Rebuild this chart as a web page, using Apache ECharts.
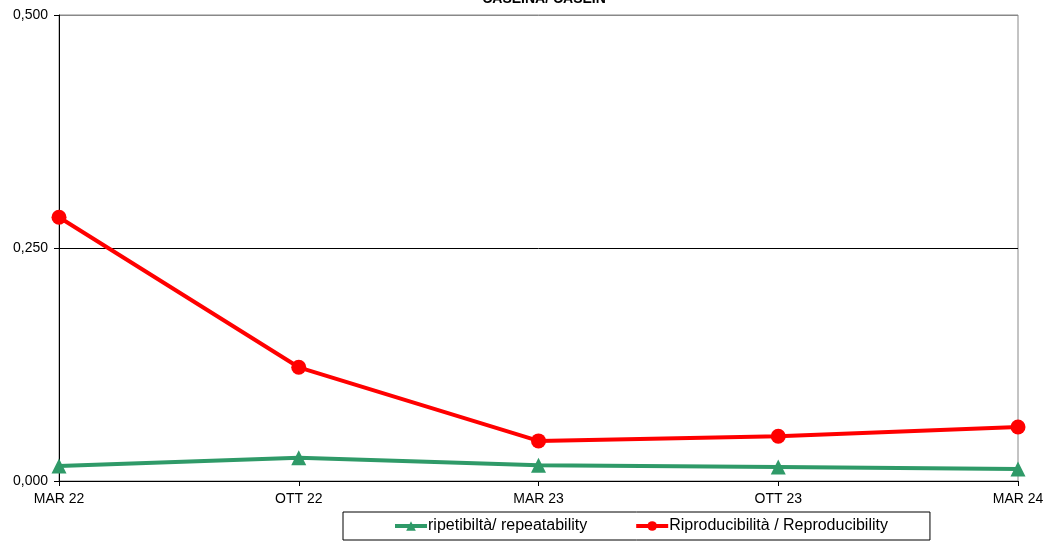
<!DOCTYPE html>
<html>
<head>
<meta charset="utf-8">
<script src="https://cdn.jsdelivr.net/npm/echarts@6/dist/echarts.min.js"></script>
<style>
  html, body { margin: 0; padding: 0; background: #fff; }
  #chart { width: 1047px; height: 545px; }
</style>
</head>
<body>
<div id="chart"></div>
<script>
// Sessions of the proficiency rounds
const categories = ['MAR 22', 'OTT 22', 'MAR 23', 'OTT 23', 'MAR 24'];
// Repeatability (r) and reproducibility (R) for casein
const repeatability = [0.016, 0.025, 0.017, 0.015, 0.013];
const reproducibility = [0.283, 0.122, 0.043, 0.048, 0.058];
const yTicks = [0, 0.25, 0.5];

const chart = echarts.init(document.getElementById('chart'));
const fmt = v => v.toFixed(3).replace('.', ',');
const font = 'Liberation Sans, Arial, sans-serif';

chart.setOption({
  animation: false,
  title: {
    text: 'CASEINA/ CASEIN',
    left: 539,
    textAlign: 'center',
    top: -13,
    textStyle: { fontFamily: font, fontSize: 14, fontWeight: 'bold', color: '#000' }
  },
  grid: {
    left: 59, right: 29, top: 15, bottom: 64,
    show: true, borderColor: '#888', borderWidth: 1
  },
  legend: {
    left: 343, top: 512,
    padding: [6, 42, 6, 50],
    itemGap: 47,
    itemWidth: 32, itemHeight: 12,
    borderColor: '#000', borderWidth: 1,
    lineStyle: { width: 4 },
    textStyle: { fontFamily: font, fontSize: 16, color: '#000', padding: [0, 0, 0, -4] },
    data: ['ripetibiltà/ repeatability', 'Riproducibilità / Reproducibility']
  },
  xAxis: {
    type: 'category',
    data: categories,
    boundaryGap: false,
    axisLine: { lineStyle: { color: '#000', width: 1 } },
    axisTick: { show: true, length: 5, lineStyle: { color: '#000' } },
    axisLabel: { fontFamily: font, fontSize: 14, color: '#000', margin: 11 },
    splitLine: { show: false }
  },
  yAxis: {
    type: 'value',
    min: yTicks[0], max: yTicks[yTicks.length - 1], interval: 0.25,
    axisLine: { show: true, lineStyle: { color: '#000', width: 1 } },
    axisTick: { show: true, length: 5, lineStyle: { color: '#000' } },
    axisLabel: { fontFamily: font, fontSize: 14, color: '#000', margin: 11, formatter: fmt },
    splitLine: { show: true, lineStyle: { color: ['#000', '#000', '#888'], width: 1 } }
  },
  series: [
    {
      name: 'ripetibiltà/ repeatability',
      type: 'line',
      data: repeatability,
      color: '#2f9a68',
      symbol: 'triangle',
      symbolSize: 15,
      lineStyle: { width: 4 },
      z: 3
    },
    {
      name: 'Riproducibilità / Reproducibility',
      type: 'line',
      data: reproducibility,
      color: '#ff0000',
      symbol: 'circle',
      symbolSize: 15,
      lineStyle: { width: 4 },
      z: 4
    }
  ]
});
</script>
</body>
</html>
